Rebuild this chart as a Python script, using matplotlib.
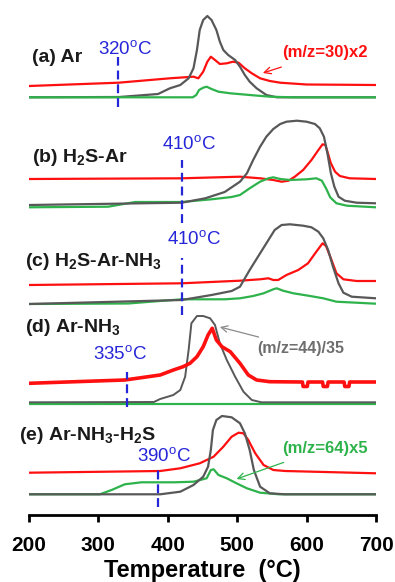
import matplotlib
matplotlib.use("Agg")
import matplotlib.pyplot as plt

plt.rcParams['font.family'] = ['Liberation Sans', 'DejaVu Sans']

# ---- data: temperature (degC) and signal height (arbitrary, stacked units) ----
grey_a_T = [200, 330, 386, 403, 418, 430, 437, 442, 446, 451, 457, 463, 470, 475, 480, 487, 497, 504, 511, 518, 528, 542, 557, 580, 700]
grey_a_h = [417.7, 418, 421, 426.7, 430, 436.7, 446.7, 465, 485, 495, 499, 495, 485, 473.3, 465, 460, 455, 448.3, 440, 433.3, 426.7, 420, 417.7, 417.7, 417.7]
red_a_T = [200, 329, 403, 437, 444, 451, 457, 462, 468, 475, 485, 494, 502, 511, 521, 533, 547, 562, 600, 700]
red_a_h = [429, 432.3, 436.7, 438.3, 436.7, 443.3, 453.3, 458.3, 455, 451, 451.7, 453.3, 452.3, 446.7, 441.7, 436.7, 434, 432.3, 430.5, 430]
green_a_T = [200, 436, 441, 445, 451, 456, 463, 473, 490, 518, 547, 580, 700]
green_a_h = [417.7, 417.7, 420, 425, 427.3, 428.3, 426, 423.3, 421.7, 420, 418.3, 417.7, 417.7]

grey_b_T = [200, 420, 454, 482, 504, 514, 523, 533, 542, 552, 562, 571, 586, 600, 612, 619, 625, 630, 635, 640, 646, 655, 672, 700]
grey_b_h = [310, 312.3, 316.7, 323, 333.3, 341.7, 355, 368.3, 378.3, 386, 391, 393.3, 394.3, 393.3, 391, 386.7, 378.3, 361.7, 341.7, 328.3, 318.3, 314.3, 312.3, 311.7]
red_b_T = [200, 420, 504, 533, 552, 564, 574, 583, 595, 607, 617, 623, 627, 630, 635, 641, 648, 662, 700]
red_b_h = [336, 336.7, 338.3, 336.7, 335, 333.3, 334.3, 338.3, 345, 355, 365, 370.7, 370, 363.3, 351.7, 343.3, 339, 336.7, 336]
green_b_T = [200, 314, 353, 420, 463, 492, 504, 518, 533, 545, 552, 562, 576, 600, 614, 622, 628, 634, 643, 658, 700]
green_b_h = [307.7, 308.3, 313, 313, 315.7, 318, 320, 326.7, 333.3, 336.7, 337.7, 336, 335, 335.7, 336.7, 334.3, 326.7, 317.7, 311.7, 309.3, 307.7]

grey_c_T = [200, 420, 463, 492, 504, 518, 533, 545, 554, 564, 576, 595, 607, 617, 624, 631, 638, 646, 653, 665, 700]
grey_c_h = [211, 215, 220, 224, 228.3, 245, 261.7, 275, 285, 290, 290.7, 289.3, 287.7, 283.3, 276.7, 265, 248.3, 231.7, 222.3, 218.3, 216.7]
red_c_T = [200, 420, 504, 533, 545, 552, 559, 571, 588, 602, 614, 623, 628, 635, 643, 653, 672, 700]
red_c_h = [230, 231.7, 234.3, 235.7, 236.7, 235, 235, 240, 245, 251.7, 263.3, 271.7, 269, 256.7, 241.7, 235.7, 234, 234]
green_c_T = [200, 343, 420, 482, 504, 523, 538, 552, 557, 566, 581, 605, 624, 643, 700]
green_c_h = [211, 211.5, 215.7, 215.7, 216.7, 219, 221.7, 225.7, 226.7, 224.3, 221.7, 219, 216.7, 213.3, 211.3]

grey_d_T = [200, 380, 389, 408, 418, 425, 430, 434, 442, 451, 461, 468, 475, 485, 497, 509, 521, 535, 700]
grey_d_h = [112.7, 113, 116, 120, 125, 138.3, 165, 191.7, 199, 199, 196.7, 190, 171.7, 155, 138.3, 123.3, 115, 112.7, 112.7]
red_d_T = [200, 338, 389, 408, 422, 432, 442, 451, 458, 464, 470, 478, 490, 504, 516, 528, 547,
           594, 595, 601, 602, 623, 624, 630, 631, 654, 655, 661, 662, 700]
red_d_h = [131.7, 135, 140, 145, 148.3, 151.7, 158.3, 168.3, 180, 186.7, 175, 168.3, 163.3, 151.7, 140, 135, 133.3,
           133, 128.5, 128.5, 133, 133, 128.5, 128.5, 133, 133, 128.5, 128.5, 133, 133]
green_d_T = [200, 450, 700]
green_d_h = [111, 111, 111]

grey_e_T = [200, 389, 418, 437, 451, 458, 462, 465, 470, 478, 492, 504, 511, 518, 524, 533, 547, 569, 700]
grey_e_h = [20.7, 20.7, 23.3, 30, 38.3, 48.3, 65, 85, 95, 99, 97.7, 91.7, 81.7, 65, 45, 28.3, 21.7, 20.7, 20.7]
red_e_T = [200, 389, 418, 446, 466, 480, 492, 502, 509, 516, 526, 538, 552, 569, 700]
red_e_h = [42.3, 44, 46.7, 51.7, 58.3, 68.3, 78.3, 82.3, 81.7, 75, 61.7, 50, 45, 44, 41.7]
green_e_T = [200, 302, 319, 338, 362, 410, 437, 456, 462, 466, 473, 485, 499, 514, 533, 560, 700]
green_e_h = [20.7, 20.7, 25, 30.7, 32.7, 32.7, 33.3, 36.7, 45, 45.7, 40, 36.7, 31.7, 26.7, 22.3, 20.7, 20.7]

panel_labels = [r'(a) Ar', r'(b) H$_\mathregular{2}$S-Ar', r'(c) H$_\mathregular{2}$S-Ar-NH$_\mathregular{3}$',
                r'(d) Ar-NH$_\mathregular{3}$', r'(e) Ar-NH$_\mathregular{3}$-H$_\mathregular{2}$S']
onset_T = [328.7, 420, 421, 340.7, 385.4]
onset_labels = ['320', '410', '410', '335', '390']
xticks = [200, 300, 400, 500, 600, 700]

GREY = '#585858'
RED = '#ff1010'
GREEN = '#2eb34c'
BLUE = '#2626d9'

fig = plt.figure(figsize=(3.95, 5.82), dpi=100)
ax = fig.add_axes([29/395, 1-515/582, 347/395, 510/582])
ax.set_xlim(200, 700)
ax.set_ylim(0, 510)

lw = 1.6
for T, h, c, w in [
    (red_a_T, red_a_h, RED, lw), (grey_a_T, grey_a_h, GREY, lw), (green_a_T, green_a_h, GREEN, lw),
    (red_b_T, red_b_h, RED, lw), (green_b_T, green_b_h, GREEN, lw), (grey_b_T, grey_b_h, GREY, lw),
    (red_c_T, red_c_h, RED, lw), (green_c_T, green_c_h, GREEN, lw), (grey_c_T, grey_c_h, GREY, lw),
    (green_d_T, green_d_h, GREEN, lw), (grey_d_T, grey_d_h, GREY, 1.4), (red_d_T, red_d_h, RED, 2.6),
    (red_e_T, red_e_h, RED, lw), (green_e_T, green_e_h, GREEN, lw), (grey_e_T, grey_e_h, GREY, lw),
]:
    ax.plot(T, h, color=c, lw=w, solid_joinstyle='round', solid_capstyle='round')

# onset dashed lines
dash_spans = [(408, 458), (292, 355), (200, 257), (108, 143), (8, 45)]
for T, (y0, y1) in zip(onset_T, dash_spans):
    ax.plot([T, T], [y0, y1], color=BLUE, lw=1.6, ls=(0, (4, 2.2)))

onset_pos = [(338, 465), (431, 370), (438, 275), (331, 160), (394, 58)]
for lab, (x, y) in zip(onset_labels, onset_pos):
    ax.text(x, y, lab + r'$^\mathregular{o}$C', color=BLUE, fontsize=13.5,
            ha='center', va='center')

label_pos = [(204, 457), (204, 358), (194, 253), (194, 187), (185, 80)]
for lab, (x, y) in zip(panel_labels, label_pos):
    ax.text(x, y, lab, color='#1a1a1a', fontsize=14, fontweight='bold',
            ha='left', va='center')

ax.annotate('(m/z=30)x2', xy=(537, 442), xytext=(627, 462), color=RED,
            fontsize=12, fontweight='bold', ha='center', va='center',
            arrowprops=dict(arrowstyle='->', color=RED, lw=0.9, shrinkA=9, shrinkB=0))
ax.annotate('(m/z=44)/35', xy=(475, 188), xytext=(592, 167), color='#6e6e6e',
            fontsize=11.5, fontweight='bold', ha='center', va='center',
            arrowprops=dict(arrowstyle='->', color='#8a8a8a', lw=0.9, shrinkA=2, shrinkB=0))
ax.annotate('(m/z=64)x5', xy=(499, 36), xytext=(626, 67), color=GREEN,
            fontsize=12, fontweight='bold', ha='center', va='center',
            arrowprops=dict(arrowstyle='->', color=GREEN, lw=0.9, shrinkA=9, shrinkB=0))

for s in ['top', 'left', 'right']:
    ax.spines[s].set_visible(False)
ax.spines['bottom'].set_linewidth(2)
ax.set_yticks([])
ax.set_xticks(xticks)
ax.set_xticklabels([str(t) for t in xticks], fontsize=15, fontweight='bold')
ax.tick_params(axis='x', direction='out', length=5, width=2, pad=10)
ax.set_xlabel('Temperature  (°C)', fontsize=17, fontweight='bold', labelpad=3)
ax.patch.set_alpha(0)

fig.savefig('out.png', dpi=100)
